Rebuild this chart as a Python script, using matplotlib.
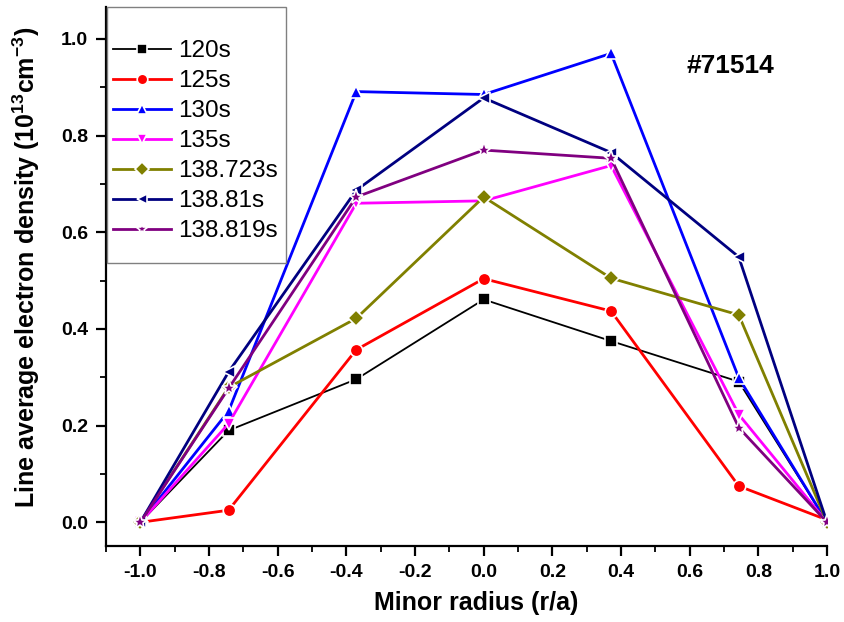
import matplotlib
matplotlib.use("Agg")
import matplotlib.pyplot as plt
from matplotlib.ticker import MultipleLocator
from matplotlib.patches import Rectangle

plt.rcParams['font.family'] = ['Liberation Sans', 'DejaVu Sans']
plt.rcParams['mathtext.fontset'] = 'custom'
plt.rcParams['mathtext.rm'] = 'Liberation Sans:bold'
plt.rcParams['mathtext.bf'] = 'Liberation Sans:bold'
plt.rcParams['mathtext.default'] = 'bf'

radius = [-1.0, -0.743, -0.371, 0.0, 0.371, 0.743, 1.0]
labels = ["120s", "125s", "130s", "135s", "138.723s", "138.81s", "138.819s"]
d120 = [0.0, 0.190, 0.296, 0.461, 0.375, 0.291, 0.0]
d125 = [0.0, 0.025, 0.357, 0.504, 0.437, 0.075, 0.005]
d130 = [0.0, 0.230, 0.891, 0.885, 0.970, 0.299, 0.0]
d135 = [0.0, 0.204, 0.660, 0.665, 0.738, 0.223, 0.0]
d138723 = [0.0, 0.279, 0.422, 0.673, 0.505, 0.429, 0.0]
d13881 = [0.0, 0.311, 0.687, 0.878, 0.765, 0.549, 0.0]
d138819 = [0.0, 0.277, 0.673, 0.770, 0.753, 0.196, 0.0]

series = [d120, d125, d130, d135, d138723, d13881, d138819]
colors = ["#000000", "#FF0000", "#0000FF", "#FF00FF", "#808000", "#000080", "#800080"]
markers = ["s", "o", "^", "v", "D", "<", "*"]
msizes = [8, 9, 9, 9, 8, 9, 11]
lws = [1.3, 2.0, 2.0, 2.0, 2.0, 2.0, 2.0]

W, H = 845, 622
fig = plt.figure(figsize=(W / 100, H / 100), dpi=100)
ax = fig.add_axes([106 / W, 1 - 546 / H, (827 - 106) / W, (546 - 7) / H])

for y, c, m, ms, lw, lab in zip(series, colors, markers, msizes, lws, labels):
    ax.plot(radius, y, color=c, lw=lw, marker=m, ms=ms, mfc=c, mec='white',
            mew=1.2, label=lab)

ax.set_xlim(-1.1, 1.0)
ax.set_ylim(-0.049, 1.066)
ax.xaxis.set_minor_locator(MultipleLocator(0.1))
ax.yaxis.set_minor_locator(MultipleLocator(0.1))
ax.set_xticks([-1.0, -0.8, -0.6, -0.4, -0.2, 0.0, 0.2, 0.4, 0.6, 0.8, 1.0])
ax.set_xticklabels(["-1.0", "-0.8", "-0.6", "-0.4", "-0.2", "0.0", "0.2", "0.4", "0.6", "0.8", "1.0"])
ax.set_yticks([0.0, 0.2, 0.4, 0.6, 0.8, 1.0])
ax.set_yticklabels(["0.0", "0.2", "0.4", "0.6", "0.8", "1.0"])

for s in ['top', 'right']:
    ax.spines[s].set_visible(False)
for s in ['left', 'bottom']:
    ax.spines[s].set_linewidth(1.6)
ax.tick_params(which='major', direction='out', length=7, width=1.6, labelsize=14, pad=6)
ax.tick_params(which='minor', direction='out', length=4, width=1.3)
for t in ax.get_xticklabels() + ax.get_yticklabels():
    t.set_fontweight('bold')

ax.set_xlabel("Minor radius (r/a)", fontsize=18, fontweight='bold')
ax.xaxis.set_label_coords(0.513, -0.083)
ax.set_ylabel(r"Line average electron density (10$^{13}$cm$^{-3}$)", fontsize=18,
              fontweight='bold')
ax.yaxis.set_label_coords(-0.089, 0.517)

ax.text(0.718, 0.943, "#71514", fontsize=19, fontweight='bold', ha='center', va='center')

# legend frame (Origin style, taller than its entries)
ax.add_patch(Rectangle((107 / W, 1 - 263 / H), (286 - 107) / W, (263 - 7) / H,
                       transform=fig.transFigure, facecolor='white',
                       edgecolor='#808080', linewidth=1.0, zorder=4, clip_on=False))
leg = ax.legend(loc='upper left', bbox_to_anchor=(113 / W, 1 - 40 / H),
                bbox_transform=fig.transFigure, fontsize=17.5, frameon=False,
                handlelength=2.4, handletextpad=0.3, labelspacing=0.33,
                borderpad=0.0, borderaxespad=0.0, markerscale=0.85)
leg.set_zorder(6)

fig.savefig("out.png", dpi=100)
